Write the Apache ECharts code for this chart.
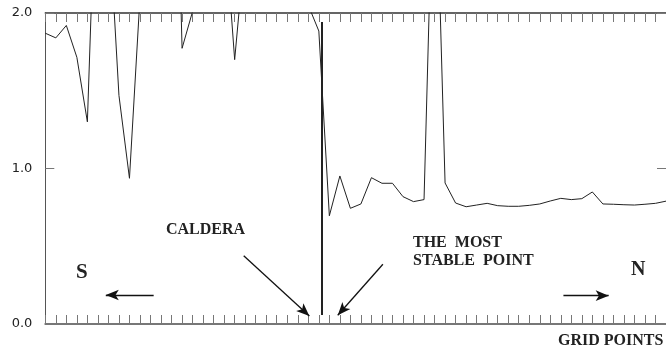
<!DOCTYPE html>
<html>
<head>
<meta charset="utf-8">
<script src="https://cdn.jsdelivr.net/npm/echarts@6/dist/echarts.min.js"></script>
<style>
  html, body { margin: 0; padding: 0; background: #fff; }
  #chart { width: 666px; height: 350px; }
</style>
</head>
<body>
<div id="chart"></div>
<script>
// Grid point index along the S-N profile
const gridPoints = [
  0, 1, 2, 3, 4, 5, 6, 7, 8, 9,
  10, 11, 12, 13, 14, 15, 16, 17, 18, 19,
  20, 21, 22, 23, 24, 25, 26, 27, 28, 29,
  30, 31, 32, 33, 34, 35, 36, 37, 38, 39,
  40, 41, 42, 43, 44, 45, 46, 47, 48, 49,
  50, 51, 52, 53, 54, 55, 56, 57, 58, 59
];
// Measured value at each grid point (values above 2.0 run off the top of the plot)
const values = [
  1.87, 1.84, 1.92, 1.715, 1.30, 3.3, 2.66, 1.47, 0.937, 2.10,
  2.6, 2.8, 4.4, 1.773, 2.01, 2.4, 2.6, 2.62, 1.70, 2.44,
  2.5, 2.7, 2.6, 2.4, 2.3, 2.05, 1.884, 0.696, 0.952, 0.744,
  0.772, 0.941, 0.905, 0.905, 0.819, 0.787, 0.80, 3.3, 0.907, 0.778,
  0.754, 0.765, 0.776, 0.761, 0.757, 0.757, 0.763, 0.772, 0.791, 0.808,
  0.80, 0.806, 0.849, 0.772, 0.77, 0.767, 0.765, 0.77, 0.776, 0.79
];
// Y axis tick values
const yTicks = [0, 1, 2];
// Position of the caldera marker along the grid
const calderaAt = 26.26;

const chart = echarts.init(document.getElementById('chart'), null, { renderer: 'canvas' });

const tickStyle = { color: '#777', width: 1 };
const serifBold = { fontFamily: 'Liberation Serif', fontWeight: 'bold', fill: '#222' };

function xAxisAt(position, lineColor, lineWidth) {
  return {
    type: 'value', position: position,
    min: 0, max: gridPoints[gridPoints.length - 1], interval: 1,
    axisLabel: { show: false },
    splitLine: { show: false },
    axisLine: { show: true, onZero: false, lineStyle: { color: lineColor, width: lineWidth } },
    axisTick: { show: true, inside: true, length: 9, lineStyle: tickStyle }
  };
}

function yAxisAt(position, showLabels) {
  return {
    type: 'value', position: position,
    min: yTicks[0], max: yTicks[yTicks.length - 1], interval: 1,
    axisLine: { show: true, onZero: false, lineStyle: { color: '#555', width: 1 } },
    axisTick: { show: true, inside: true, length: 9, lineStyle: tickStyle },
    splitLine: { show: false },
    axisLabel: {
      show: showLabels, margin: 13, color: '#222', fontFamily: 'DejaVu Sans', fontSize: 13,
      formatter: v => v.toFixed(1)
    }
  };
}

const option = {
  animation: false,
  grid: { left: 45.3, right: -3.9, top: 13, bottom: 26, containLabel: false },
  xAxis: [xAxisAt('bottom', '#777', 2), xAxisAt('top', '#333', 1.5)],
  yAxis: [yAxisAt('left', true), yAxisAt('right', false)],
  series: [{
    type: 'line',
    data: gridPoints.map((g, i) => [g, values[i]]),
    xAxisIndex: 0, yAxisIndex: 0,
    showSymbol: false, symbol: 'none',
    clip: true,
    lineStyle: { color: '#222', width: 1 },
    markLine: {
      silent: true,
      symbol: ['none', 'arrow'],
      symbolSize: [8, 13],
      label: { show: false },
      lineStyle: { color: '#111', width: 1.3, type: 'solid' },
      data: [
        // caldera marker
        [{ coord: [calderaAt, 0.058], symbol: 'none', lineStyle: { color: '#222', width: 2, type: 'solid' } },
         { coord: [calderaAt, 1.942], symbol: 'none' }],
        // S direction
        [{ coord: [10.30, 0.1865] }, { coord: [5.75, 0.1865] }],
        // N direction
        [{ coord: [49.25, 0.182] }, { coord: [53.55, 0.182] }],
        // caldera pointer
        [{ coord: [18.86, 0.439] }, { coord: [25.1, 0.052] }],
        // most stable point pointer
        [{ coord: [32.09, 0.384] }, { coord: [27.8, 0.056] }]
      ]
    }
  }],
  graphic: [
    { type: 'text', left: 166, top: 222, style: Object.assign({ text: 'CALDERA', fontSize: 16 }, serifBold) },
    { type: 'text', left: 413, top: 235, style: Object.assign({ text: 'THE  MOST', fontSize: 16 }, serifBold) },
    { type: 'text', left: 413, top: 253, style: Object.assign({ text: 'STABLE  POINT', fontSize: 16 }, serifBold) },
    { type: 'text', left: 76, top: 262, style: Object.assign({ text: 'S', fontSize: 21 }, serifBold) },
    { type: 'text', left: 631, top: 260, style: Object.assign({ text: 'N', fontSize: 20 }, serifBold) },
    { type: 'text', left: 558, top: 333, style: Object.assign({ text: 'GRID POINTS', fontSize: 16 }, serifBold) }
  ]
};

chart.setOption(option);
</script>
</body>
</html>
